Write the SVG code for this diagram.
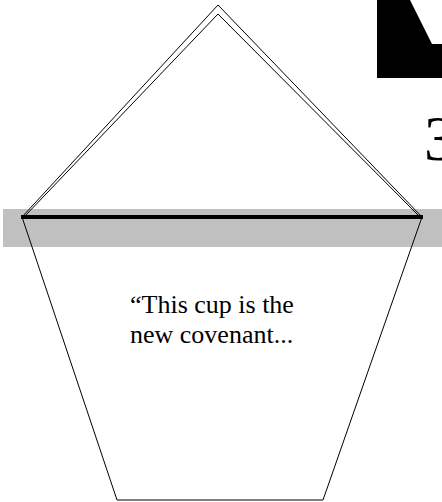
<svg xmlns="http://www.w3.org/2000/svg" width="442" height="502" viewBox="0 0 442 502">
<style>
.ln{fill:none;stroke:#000;stroke-width:1}
.txt{font-family:"Liberation Serif","Times New Roman",serif;fill:#000}
</style>
<rect width="442" height="502" fill="#fff"/>
<g id="band">
<rect x="3" y="209" width="439" height="38" fill="#c0c0c0"/>
</g>
<g id="icon">
<rect x="377" y="0" width="65" height="78" fill="#000"/>
<polygon points="410,0 442,0 442,44 432,44" fill="#fff"/>
</g>
<g id="number">
<text class="txt" x="424" y="160" font-size="64">3</text>
</g>
<g id="roof">
<polyline class="ln" points="22,217 218,5 422,217"/>
<polyline class="ln" points="24,217 218,14 420,217"/>
</g>
<g id="cup">
<polygon class="ln" points="22,217 117,500 323,500 422,217"/>
<text class="txt" x="130" y="313" font-size="26">“This cup is the</text>
<text class="txt" x="130" y="343" font-size="26">new covenant...</text>
</g>
<g id="connectors">
<line x1="21" y1="217" x2="423" y2="217" stroke="#000" stroke-width="4"/>
</g>
</svg>
